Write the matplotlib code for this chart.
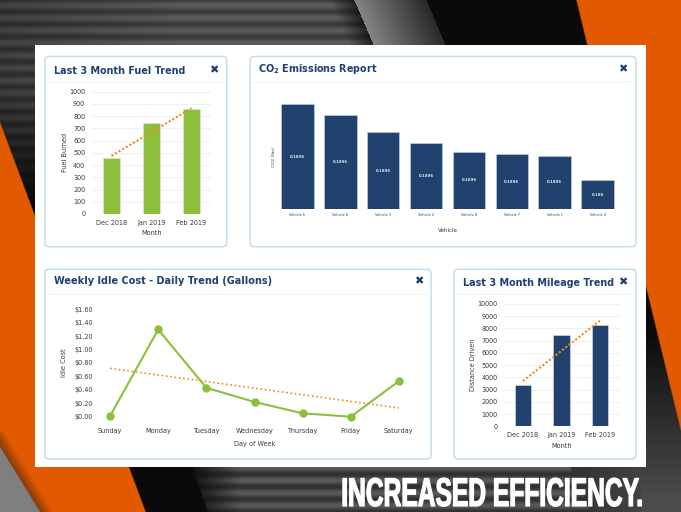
import numpy as np
import matplotlib
matplotlib.use("Agg")
import matplotlib.pyplot as plt
from matplotlib.patches import FancyBboxPatch, Rectangle
from matplotlib.patheffects import AbstractPathEffect
from matplotlib.transforms import Affine2D

W, H = 681, 512
NAVY = "#1f3f73"
BAR_NAVY = "#21426f"
GREEN = "#8cc03a"
ORANGE = "#ef8a1e"
TEXT = "#3a3a3a"
GRID = "#f0f0f0"
BORDER = "#c5dcec"

fuel_months = ["Dec 2018", "Jan 2019", "Feb 2019"]
fuel_values = [460, 745, 855]
fuel_trend = [475, 865]

vehicles = ["Vehicle 5", "Vehicle 6", "Vehicle 3", "Vehicle 2", "Vehicle 8", "Vehicle 7", "Vehicle 1", "Vehicle 4"]
co2_values = [900, 806, 661, 564, 493, 470, 459, 248]
co2_labels = ["0.1896"] * 7 + ["0.180"]

days = ["Sunday", "Monday", "Tuesday", "Wednesday", "Thursday", "Friday", "Saturday"]
idle_cost = [0.01, 1.30, 0.43, 0.22, 0.05, 0.0, 0.53]
idle_trend = [0.72, 0.13]

mile_months = ["Dec 2018", "Jan 2019", "Feb 2019"]
mile_values = [3350, 7430, 8300]
mile_trend = [3700, 8650]

plt.rcParams["font.family"] = ["DejaVu Sans"]
plt.rcParams["mathtext.fontset"] = "dejavusans"
fig = plt.figure(figsize=(W / 100, H / 100), dpi=100)


def step(v, soft=1.0):
    return np.clip(v / soft + 0.5, 0, 1)


def background():
    yy, xx = np.mgrid[0:H, 0:W].astype(float)
    img = np.zeros((H, W, 3)) + 0.04
    wave = 0.5 + 0.5 * np.cos(2 * np.pi * (yy - 5) / 12.5)
    # top-left striped zone
    top = (yy < 215) & (xx < 365 + yy * 0.4)
    fade_y = np.clip((205 - yy) / 120, 0, 1)
    fade_x = np.clip(0.7 + xx / 600, 0, 1) * np.clip((356 + 0.43 * yy - xx) / 35 + 0.25, 0, 1)
    val = (0.2 + 0.13 * wave) * fade_y * fade_x + 0.03
    img[top] = val[top][:, None]
    # grey sheen band at the top
    t = (xx - (354 + yy * 0.43)) / 72
    band = (t >= 0) & (t <= 1)
    bval = 0.52 - 0.36 * np.clip(t, 0, 1)
    img[band] = bval[band][:, None]
    # bottom striped zone
    bot = (yy > 462) & (xx > 190 + (yy - 462) * 0.35)
    fx = np.clip((xx - 190) / 50, 0, 1)
    bval2 = 0.06 + (0.13 + 0.16 * wave) * fx
    img[bot] = bval2[bot][:, None]
    # lower-right dark panel
    right = (xx > 570 + (yy - 467) * 0.45) & (yy > 462)
    rval = 0.2 + 0.1 * np.clip((xx - 580) / 100, 0, 1)
    img[right] = rval[right][:, None]
    side = (xx > 640) & (yy > 280)
    sval = 0.04 + 0.26 * np.clip((yy - 330) / 170, 0, 1)
    img[side] = sval[side][:, None]
    # left orange wedge
    orange = np.array([0.89, 0.35, 0.0])
    d1 = (yy - 123) * 0.374 - xx
    mask = step(d1, 1.5)[..., None]
    img = img * (1 - mask) + orange * mask
    # grey corner, lower left, with a brown shaded rim
    d2 = xx - (yy - 447) * 0.615
    shade = (np.clip(1 - d2 / 14, 0, 1) * (yy > 430))[..., None] * 0.8
    dark = np.array([0.42, 0.2, 0.05])
    img = img * (1 - shade) + dark * shade
    grey = np.array([0.5, 0.5, 0.5])
    m2 = step(-d2, 1.5)[..., None]
    img = img * (1 - m2) + grey * m2
    # right orange wedge
    d3 = xx - (576 + yy * 0.243)
    m3 = step(d3, 1.5)[..., None]
    img = img * (1 - m3) + orange * m3
    return np.clip(img, 0, 1)


bg = fig.add_axes([0, 0, 1, 1], zorder=0)
bg.imshow(background(), extent=(0, W, H, 0), aspect="auto", interpolation="bilinear")
bg.set_xlim(0, W)
bg.set_ylim(H, 0)
bg.axis("off")
bg.add_patch(Rectangle((35, 44.5), 610.5, 422.5, fc="white", ec="none", zorder=2))


def panel(x0, y0, x1, y1, header_y, title, title_x, title_y, close_x, size=6.9):
    bg.add_patch(FancyBboxPatch((x0 + 4, y0 + 4), x1 - x0 - 8, y1 - y0 - 8,
                                boxstyle="round,pad=4", fc="white", ec=BORDER, lw=1.1, zorder=3))
    bg.plot([x0 + 1, x1 - 1], [header_y, header_y], color="#f3f3f3", lw=0.7, zorder=4)
    bg.text(title_x, title_y, title, color=NAVY, fontsize=size, fontweight="bold",
            va="center", ha="left", zorder=5)
    bg.text(close_x, title_y - 0.5, "\u2716", color=NAVY, fontsize=8, va="center", ha="center", zorder=5)


panel(45, 56.5, 226.7, 246.7, 81.7, "Last 3 Month Fuel Trend", 54, 70.5, 214)
panel(250, 56.5, 636, 246.7, 81.7, r"CO$_{\mathbf{2}}$ Emissions Report", 258, 69.5, 623)
panel(45, 269.3, 431, 459, 294.3, "Weekly Idle Cost - Daily Trend (Gallons)", 54, 281.5, 418.5, size=7.05)
panel(454, 269.3, 636, 459, 294.3, "Last 3 Month Mileage Trend", 463, 283, 623)


def make_axes(x0, y_top, x1, y_bot):
    ax = fig.add_axes([x0 / W, 1 - y_bot / H, (x1 - x0) / W, (y_bot - y_top) / H], zorder=2)
    ax.patch.set_alpha(0)
    for s in ax.spines.values():
        s.set_visible(False)
    return ax


def style(ax, fs=4.7):
    ax.tick_params(axis="both", length=0, labelsize=fs, labelcolor=TEXT)
    ax.set_axisbelow(True)
    ax.grid(axis="y", color=GRID, lw=0.7)


def trend_bar(ax, labels, values, trend, color, ylabel, xlabel, yticks, ylim):
    x = np.arange(len(labels))
    ax.bar(x, values, width=0.43, color=color, edgecolor="#dce6f0", lw=0.4)
    ax.plot([x[0], x[-1]], trend, color=ORANGE, lw=1.5, ls=(0, (1, 1)), zorder=4)
    ax.set_xlim(-0.5, len(labels) - 0.5)
    ax.set_ylim(*ylim)
    ax.set_yticks(yticks)
    ax.set_xticks(x, labels)
    style(ax)
    ax.tick_params(axis="x", pad=4.2)
    ax.tick_params(axis="y", pad=4.5)
    ax.set_ylabel(ylabel, fontsize=4.7, color=TEXT, labelpad=0.5)
    ax.set_xlabel(xlabel, fontsize=4.7, color=TEXT, labelpad=3.2)


# Fuel
ax1 = make_axes(91.5, 91.7, 211.5, 214)
trend_bar(ax1, fuel_months, fuel_values, fuel_trend, GREEN, "Fuel Burned", "Month",
          np.arange(0, 1001, 100), (0, 1000))

# CO2
ax2 = make_axes(276, 104, 619, 209.3)
x2 = np.arange(len(vehicles))
ax2.bar(x2, co2_values, width=0.76, color=BAR_NAVY, edgecolor="#b9cce0", lw=0.5)
for xi, v, lab in zip(x2, co2_values, co2_labels):
    ax2.text(xi, v / 2, lab, color="#e2e9f2", fontsize=2.8, fontweight="bold", ha="center", va="center")
ax2.set_xlim(-0.5, len(vehicles) - 0.5)
ax2.set_ylim(0, 900)
ax2.set_yticks([])
ax2.set_xticks(x2, vehicles)
ax2.tick_params(axis="x", length=0, labelsize=2.5, labelcolor=TEXT, pad=2.5)
ax2.set_ylabel("CO2 (lbs)", fontsize=3.2, color=TEXT, labelpad=0)
ax2.set_xlabel("Vehicle", fontsize=4.1, color=TEXT, labelpad=8)

# Idle
ax3 = make_axes(86, 309.3, 423, 416.7)
x3 = np.arange(len(days))
ax3.plot(x3, idle_cost, color=GREEN, lw=1.5, marker="o", ms=5, zorder=3, clip_on=False)
ax3.plot([x3[0], x3[-1]], idle_trend, color=ORANGE, lw=1.2, ls=(0, (1, 1.6)), zorder=4)
ax3.set_xlim(-0.5, len(days) - 0.5)
ax3.set_ylim(0, 1.6)
idle_ticks = np.arange(0, 1.61, 0.2)
ax3.set_yticks(idle_ticks, [f"${v:.2f}" for v in idle_ticks])
ax3.set_xticks(x3, days)
style(ax3)
ax3.grid(False)
ax3.tick_params(axis="x", pad=8)
ax3.tick_params(axis="y", pad=-5)
ax3.set_ylabel("Idle Cost", fontsize=4.7, color=TEXT, labelpad=5.5)
ax3.set_xlabel("Day of Week", fontsize=4.7, color=TEXT, labelpad=5)

# Mileage
ax4 = make_axes(503.5, 304, 619.5, 426.3)
trend_bar(ax4, mile_months, mile_values, mile_trend, BAR_NAVY, "Distance Driven", "Month",
          np.arange(0, 10001, 1000), (0, 10000))


class TallText(AbstractPathEffect):
    """Stretch the glyphs vertically about a display-space baseline and thicken them."""

    def __init__(self, sy, base, stroke):
        super().__init__()
        self.sy, self.base, self.stroke = sy, base, stroke

    def draw_path(self, renderer, gc, tpath, affine, rgbFace=None):
        a = affine + Affine2D().translate(0, -self.base).scale(1, self.sy).translate(0, self.base)
        gc0 = renderer.new_gc()
        gc0.copy_properties(gc)
        gc0.set_linewidth(self.stroke)
        gc0.set_foreground("white")
        renderer.draw_path(gc0, tpath, a, rgbFace)
        gc0.restore()


headline = bg.text(643, 506, "INCREASED EFFICIENCY.", color="white", fontsize=17.7, fontweight="bold",
                   family="Liberation Sans", ha="right", va="baseline", zorder=6)
headline.set_path_effects([TallText(1.63, H - 506, 0.9)])

fig.savefig("out.png", dpi=100)
